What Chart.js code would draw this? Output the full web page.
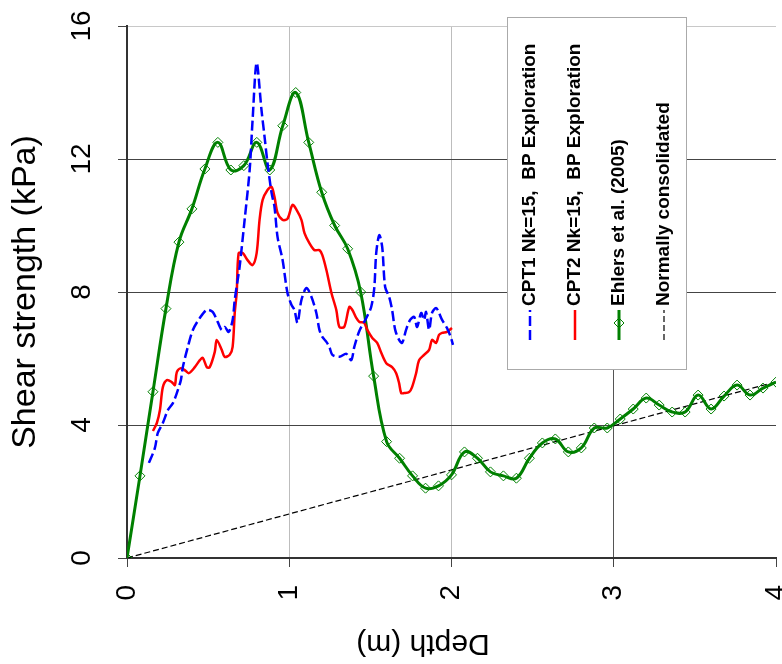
<!DOCTYPE html>
<html lang="en">
<head>
    <meta charset="UTF-8">
    <title>Shear strength vs depth</title>
    <script src="https://cdn.jsdelivr.net/npm/chart.js"></script>
    <style>
        body { margin: 0; padding: 0; background: #fff; }
        #wrap { width: 782px; height: 664px; }
    </style>
</head>
<body>
<div id="wrap"><canvas id="chart" width="782" height="664"></canvas></div>
<script>
    // Depth (m) / shear strength (kPa)
    const cpt1Depth = [0.135, 0.172, 0.190, 0.221, 0.252, 0.283, 0.307, 0.332, 0.344, 0.375, 0.406, 0.449, 0.492, 0.528, 0.559, 0.584, 0.602, 0.627, 0.651, 0.664, 0.682, 0.694, 0.725, 0.756, 0.774, 0.799, 0.829, 0.848, 0.866, 0.891, 0.909, 0.928, 0.959, 0.989, 1.014, 1.032, 1.051, 1.075, 1.106, 1.137, 1.167, 1.186, 1.204, 1.229, 1.247, 1.266, 1.309, 1.352, 1.382, 1.401, 1.432, 1.475, 1.505, 1.524, 1.536, 1.555, 1.573, 1.591, 1.616, 1.634, 1.653, 1.677, 1.696, 1.720, 1.745, 1.770, 1.788, 1.813, 1.831, 1.843, 1.862, 1.880, 1.905, 1.923, 1.942, 1.972, 1.997, 2.009];
    const cpt1Su = [2.86, 3.31, 3.76, 4.06, 4.45, 4.66, 4.96, 5.35, 5.74, 6.35, 6.86, 7.22, 7.46, 7.40, 7.10, 6.86, 6.95, 6.80, 7.16, 7.76, 8.36, 8.75, 10.17, 11.67, 13.17, 14.89, 13.47, 12.66, 11.88, 10.98, 10.56, 9.65, 8.96, 7.97, 7.61, 7.46, 7.07, 7.76, 8.12, 7.85, 7.37, 6.86, 6.65, 6.50, 6.35, 6.11, 6.05, 6.14, 5.95, 6.35, 6.83, 7.22, 7.55, 8.12, 9.17, 9.71, 9.35, 8.15, 7.85, 7.46, 6.86, 6.56, 6.47, 6.86, 7.16, 7.25, 6.95, 7.37, 7.16, 7.40, 6.86, 7.37, 7.52, 7.37, 7.16, 6.92, 6.62, 6.41];

    const cpt2Depth = [0.160, 0.184, 0.203, 0.221, 0.246, 0.276, 0.295, 0.307, 0.332, 0.356, 0.381, 0.418, 0.449, 0.467, 0.492, 0.510, 0.541, 0.553, 0.584, 0.602, 0.633, 0.651, 0.664, 0.676, 0.688, 0.713, 0.743, 0.774, 0.799, 0.817, 0.836, 0.866, 0.891, 0.909, 0.928, 0.959, 0.989, 1.020, 1.045, 1.075, 1.094, 1.124, 1.155, 1.186, 1.204, 1.229, 1.260, 1.290, 1.309, 1.339, 1.370, 1.389, 1.413, 1.432, 1.462, 1.481, 1.512, 1.542, 1.567, 1.598, 1.634, 1.659, 1.677, 1.690, 1.708, 1.739, 1.757, 1.782, 1.800, 1.831, 1.862, 1.880, 1.905, 1.923, 1.942, 1.972, 2.003];
    const cpt2Su = [3.82, 4.06, 4.45, 5.14, 5.35, 5.29, 5.20, 5.59, 5.71, 5.65, 5.56, 5.74, 5.95, 6.02, 5.74, 5.74, 6.20, 6.56, 6.26, 6.05, 6.11, 6.35, 7.37, 7.97, 9.17, 9.17, 8.96, 8.81, 9.17, 10.17, 10.77, 11.07, 11.16, 10.86, 10.38, 10.17, 10.20, 10.62, 10.47, 10.17, 9.77, 9.47, 9.26, 9.26, 9.11, 8.66, 7.97, 7.46, 6.95, 6.95, 7.55, 7.46, 7.22, 7.10, 7.07, 6.86, 6.62, 6.47, 6.17, 5.86, 5.74, 5.56, 5.26, 4.96, 4.96, 4.99, 5.14, 5.56, 5.95, 6.11, 6.26, 6.56, 6.47, 6.71, 6.77, 6.80, 6.92];

    const ehlersDepth = [0, 0.08, 0.16, 0.24, 0.32, 0.40, 0.48, 0.56, 0.64, 0.72, 0.80, 0.88, 0.96, 1.04, 1.12, 1.20, 1.28, 1.36, 1.44, 1.52, 1.60, 1.68, 1.76, 1.84, 1.92, 2.00, 2.08, 2.16, 2.24, 2.32, 2.40, 2.48, 2.56, 2.64, 2.72, 2.80, 2.88, 2.96, 3.04, 3.12, 3.20, 3.28, 3.36, 3.44, 3.52, 3.60, 3.68, 3.76, 3.84, 3.92, 4.00];
    const ehlersSu = [0, 2.47, 5.0, 7.5, 9.5, 10.5, 11.7, 12.5, 11.67, 11.8, 12.5, 11.67, 13.0, 14.0, 12.5, 11.0, 10.0, 9.3, 8.0, 5.47, 3.5, 3.0, 2.47, 2.1, 2.17, 2.5, 3.19, 3.0, 2.59, 2.47, 2.4, 3.0, 3.46, 3.58, 3.19, 3.31, 3.91, 3.91, 4.18, 4.48, 4.81, 4.6, 4.39, 4.39, 4.9, 4.48, 4.87, 5.2, 4.9, 5.11, 5.29];

    const ncDepth = [0, 4];
    const ncSu = [0, 5.3];

    const seriesLabels = ['CPT1 Nk=15,  BP Exploration', 'CPT2 Nk=15,  BP Exploration', 'Ehlers et al. (2005)', 'Normally consolidated'];
    const depthTicks = [0, 1, 2, 3, 4];
    const suTicks = [0, 4, 8, 12, 16];

    const FONT = "'Liberation Sans', Arial, sans-serif";

    function pairs(xs, ys) {
        return xs.map((x, i) => ({ x: x, y: ys[i] }));
    }

    // rotated legend box, drawn like the original (text reads bottom to top)
    const rotatedLegend = {
        id: 'rotatedLegend',
        afterDraw(chart) {
            const ctx = chart.ctx;
            ctx.save();
            ctx.fillStyle = '#fff';
            ctx.fillRect(507, 17, 179, 352);
            ctx.strokeStyle = '#aaa';
            ctx.lineWidth = 1;
            ctx.strokeRect(507.5, 17.5, 179, 352);
            const cols = [530, 575, 619, 664];
            chart.data.datasets.forEach((ds, i) => {
                const cx = cols[i];
                ctx.save();
                ctx.strokeStyle = ds.borderColor;
                ctx.lineWidth = ds.borderWidth;
                ctx.setLineDash(ds.borderDash || []);
                ctx.beginPath();
                ctx.moveTo(cx, 340);
                ctx.lineTo(cx, 310);
                ctx.stroke();
                ctx.setLineDash([]);
                if (ds.pointRadius > 0) {
                    ctx.lineWidth = 1;
                    ctx.beginPath();
                    ctx.moveTo(cx, 318); ctx.lineTo(cx + 5, 323);
                    ctx.lineTo(cx, 328); ctx.lineTo(cx - 5, 323);
                    ctx.closePath();
                    ctx.stroke();
                }
                ctx.translate(cx, 306);
                ctx.rotate(-Math.PI / 2);
                ctx.fillStyle = '#000';
                ctx.font = 'bold 19px ' + FONT;
                ctx.textAlign = 'left';
                ctx.textBaseline = 'middle';
                ctx.fillText(ds.label, 0, 0);
                ctx.restore();
            });
            ctx.restore();
        }
    };

    // x axis title is upside down in the source figure
    const depthTitle = {
        id: 'depthTitle',
        afterDraw(chart) {
            const ctx = chart.ctx;
            ctx.save();
            ctx.translate(423, 643);
            ctx.rotate(Math.PI);
            ctx.fillStyle = '#000';
            ctx.font = '30px ' + FONT;
            ctx.textAlign = 'center';
            ctx.textBaseline = 'middle';
            ctx.fillText('Depth (m)', 0, 0);
            ctx.restore();
        }
    };

    new Chart(document.getElementById('chart').getContext('2d'), {
        type: 'scatter',
        data: {
            datasets: [{
                label: seriesLabels[0],
                data: pairs(cpt1Depth, cpt1Su),
                showLine: true,
                borderColor: '#0000ff',
                borderWidth: 2.5,
                borderDash: [10, 4],
                pointRadius: 0,
                tension: 0.3
            }, {
                label: seriesLabels[1],
                data: pairs(cpt2Depth, cpt2Su),
                showLine: true,
                borderColor: '#ff0000',
                borderWidth: 2.5,
                pointRadius: 0,
                tension: 0.3
            }, {
                label: seriesLabels[2],
                data: pairs(ehlersDepth, ehlersSu),
                showLine: true,
                borderColor: '#008000',
                borderWidth: 3,
                pointStyle: 'rectRot',
                pointRadius: 5,
                pointBorderWidth: 1,
                pointBorderColor: '#008000',
                pointBackgroundColor: 'rgba(255,255,255,0)',
                tension: 0.4
            }, {
                label: seriesLabels[3],
                data: pairs(ncDepth, ncSu),
                showLine: true,
                borderColor: '#000',
                borderWidth: 1.2,
                borderDash: [6, 3],
                pointRadius: 0
            }]
        },
        options: {
            responsive: false,
            animation: false,
            layout: { padding: { top: 26, right: 4, left: 0, bottom: 0 } },
            plugins: {
                legend: { display: false },
                tooltip: { enabled: false }
            },
            scales: {
                x: {
                    type: 'linear',
                    min: 0,
                    max: 4,
                    afterBuildTicks: s => { s.ticks = depthTicks.map(v => ({ value: v })); },
                    afterFit: s => { s.height = 106; s.paddingLeft = 0; s.paddingRight = 0; },
                    border: { color: '#333', width: 2 },
                    grid: {
                        color: c => {
                            const v = c.tick ? c.tick.value : null;
                            if (v === 1 || v === 2) return '#bdbdbd';
                            if (v === 3) return '#555';
                            return 'rgba(0,0,0,0)';
                        },
                        tickColor: '#444',
                        tickLength: 9,
                        lineWidth: 1
                    },
                    ticks: {
                        color: '#000',
                        font: { family: FONT, size: 28 },
                        minRotation: 90,
                        maxRotation: 90,
                        padding: 18
                    },
                    title: { display: false }
                },
                y: {
                    min: 0,
                    max: 16,
                    afterBuildTicks: s => { s.ticks = suTicks.map(v => ({ value: v })); },
                    afterFit: s => { s.width = 127; s.paddingTop = 0; s.paddingBottom = 0; },
                    border: { color: '#333', width: 2 },
                    grid: {
                        color: c => {
                            const v = c.tick ? c.tick.value : null;
                            if (v === 16) return '#c8c8c8';
                            if (v === 0) return 'rgba(0,0,0,0)';
                            return '#444';
                        },
                        tickColor: '#444',
                        tickLength: 9,
                        lineWidth: 1
                    },
                    ticks: {
                        color: '#000',
                        font: { family: FONT, size: 28 },
                        minRotation: 90,
                        maxRotation: 90,
                        crossAlign: 'center',
                        padding: 20
                    },
                    title: {
                        display: true,
                        text: 'Shear strength (kPa)',
                        color: '#000',
                        font: { family: FONT, size: 34 },
                        padding: { top: 5, bottom: 0 }
                    }
                }
            }
        },
        plugins: [rotatedLegend, depthTitle]
    });
</script>
</body>
</html>
